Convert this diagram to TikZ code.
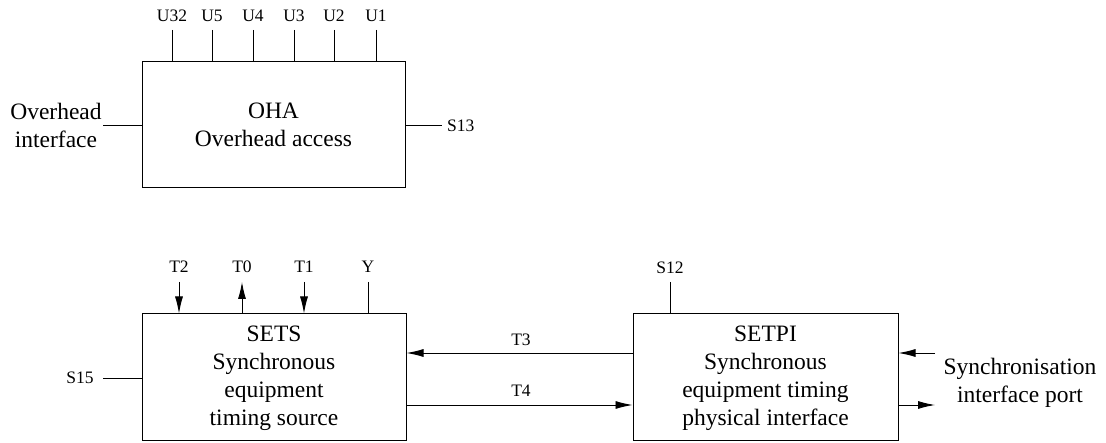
\documentclass[tikz,border=0pt]{standalone}
\usepackage{fontspec}
\setmainfont{Liberation Serif}
\usetikzlibrary{arrows.meta}
\tikzset{
  blk/.style={draw, line width=1pt, inner sep=0pt},
  big/.style={font=\fontsize{23.5}{28}\selectfont, align=center, inner sep=0pt},
  lbl/.style={font=\fontsize{17.5}{20}\selectfont, inner sep=0pt},
  wire/.style={line width=0.9pt},
  arr/.style={line width=0.9pt, -{Latex[length=17pt,width=8pt]}},
}
\begin{document}
\begin{tikzpicture}[x=1pt,y=-1pt]
\useasboundingbox (0,0) rectangle (1106,443);
% boxes
\node[blk, minimum width=263pt, minimum height=126pt] (oha) at (273.5,125) {};
\node[blk, minimum width=264pt, minimum height=127pt] (sets) at (274,377.5) {};
\node[blk, minimum width=265pt, minimum height=127pt] (setpi) at (765.5,377.5) {};
% box texts
\node[big] (ohat) at (273.5,125) {OHA\\Overhead access};
\node[big] (setst) at (274,378) {SETS\\Synchronous\\equipment\\timing source};
\node[big] (setpit) at (765.5,378) {SETPI\\Synchronous\\equipment timing\\physical interface};
% OHA top ports
\foreach \n/\x/\t in {u32/172/U32, u5/212/U5, u4/253/U4, u3/294/U3, u2/334/U2, u1/376/U1}{
  \node[lbl] (\n) at (\x,16) {\t};
  \coordinate (\n e) at (\x,30);
  \draw[wire] (\n e) -- (\n e |- oha.north);
}
% Overhead interface
\node[big] (ohi) at (56,125) {Overhead\\interface};
\coordinate (ohie) at (103,125);
\draw[wire] (ohie) -- (ohie -| oha.west);
% S13
\node[lbl, anchor=west] (s13) at (447,126) {S13};
\coordinate (s13e) at (442,125);
\draw[wire] (oha.east |- s13e) -- (s13e);
% SETS top ports
\node[lbl] (t2) at (179,267) {T2};
\node[lbl] (t0) at (242,267) {T0};
\node[lbl] (t1) at (304,267) {T1};
\node[lbl] (y) at (368,267) {Y};
\coordinate (t2e) at (179,282);
\coordinate (t0e) at (242,282);
\coordinate (t1e) at (304,282);
\coordinate (ye) at (368,282);
\draw[arr] (t2e) -- (t2e |- sets.north);
\draw[arr] (t0e |- sets.north) -- (t0e);
\draw[arr] (t1e) -- (t1e |- sets.north);
\draw[wire] (ye) -- (ye |- sets.north);
% S15
\node[lbl] (s15) at (80,378) {S15};
\coordinate (s15e) at (103,378);
\draw[wire] (s15e) -- (s15e -| sets.west);
% S12
\node[lbl] (s12) at (670,268) {S12};
\coordinate (s12e) at (670,282);
\draw[wire] (s12e) -- (s12e |- setpi.north);
% T3 / T4
\coordinate (t3y) at (520,353);
\coordinate (t4y) at (520,405);
\draw[arr] (setpi.west |- t3y) -- (sets.east |- t3y);
\draw[arr] (sets.east |- t4y) -- (setpi.west |- t4y);
\node[lbl] (t3) at (521,340) {T3};
\node[lbl] (t4) at (521,391) {T4};
% sync interface port
\node[big] (sip) at (1020,383) {Synchronisation\\interface port};
\coordinate (sin) at (935,353);
\coordinate (sout) at (935,405);
\draw[arr] (sin) -- (sin -| setpi.east);
\draw[arr] (sout -| setpi.east) -- (sout);
\end{tikzpicture}
\end{document}
